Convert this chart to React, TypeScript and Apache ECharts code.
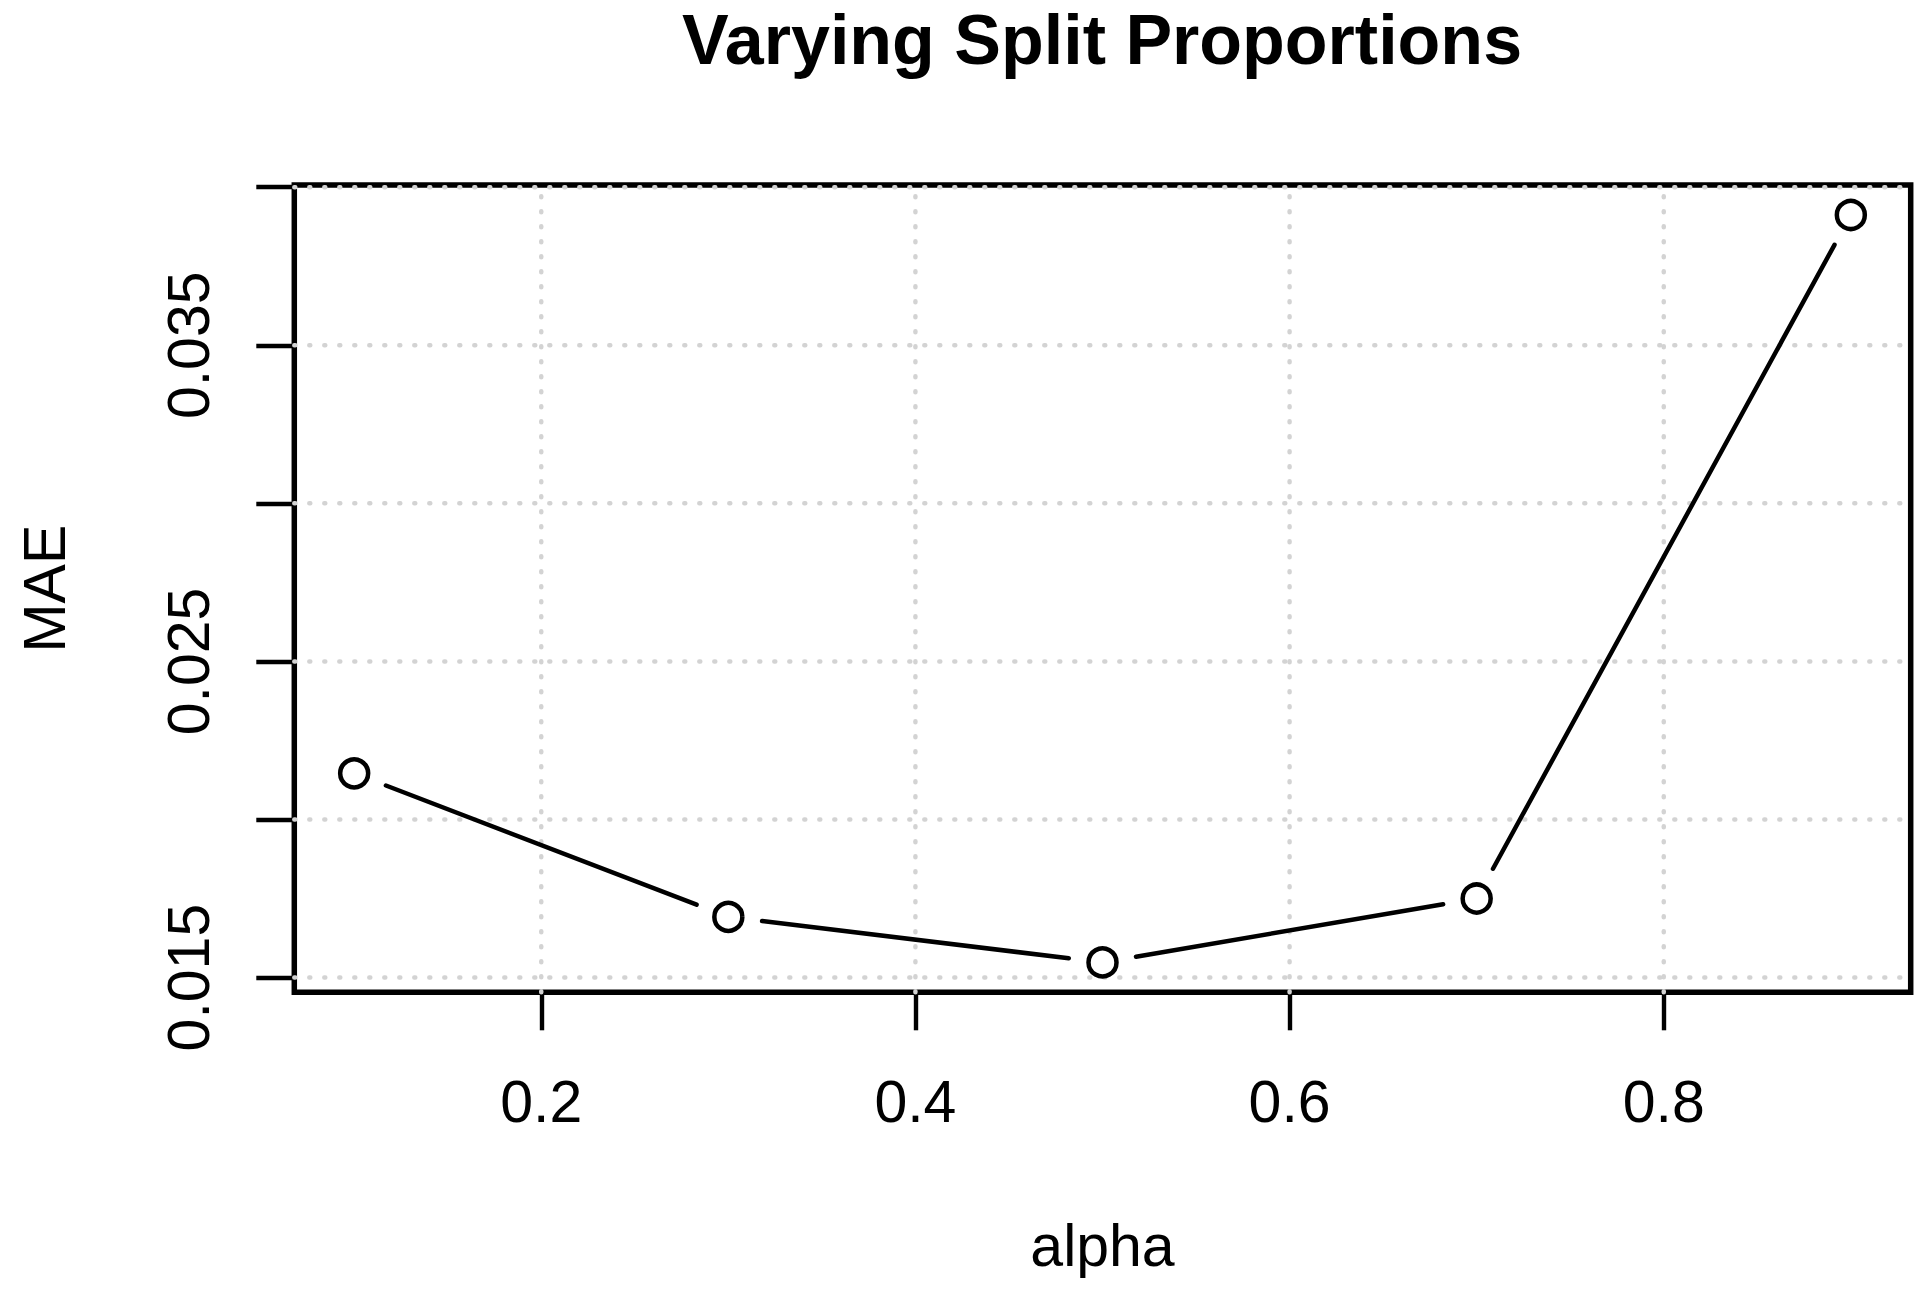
import React, { useEffect, useRef } from "react";
import * as echarts from "echarts";

const alpha = [0.1, 0.3, 0.5, 0.7, 0.9];
const mae = [0.02146, 0.01692, 0.01548, 0.0175, 0.03912];
const xTicks = [0.2, 0.4, 0.6, 0.8];
const yTicks = [0.015, 0.02, 0.025, 0.03, 0.035, 0.04];
const yLabels = [0.015, 0.025, 0.035];
const titleText = "Varying Split Proportions";
const xName = "alpha";
const yName = "MAE";

const FONT = '"Liberation Sans", Arial, Helvetica, sans-serif';
const GAP = 34;

function padRange(vals: number[]): [number, number] {
  const lo = Math.min(...vals);
  const hi = Math.max(...vals);
  const d = (hi - lo) * 0.04;
  return [lo - d, hi + d];
}

export default function App() {
  const ref = useRef<HTMLDivElement>(null);
  useEffect(() => {
    if (!ref.current) return;
    const chart = echarts.init(ref.current, null, { renderer: "svg" });
    const [xMin, xMax] = padRange(alpha);
    const [yMin, yMax] = padRange(mae);
    const pts = alpha.map((a, i) => [a, mae[i]]);
    const segs = alpha.slice(0, -1).map((a, i) => [a, mae[i], alpha[i + 1], mae[i + 1]]);
    const gridStyle = {
      stroke: "#d3d3d3",
      lineWidth: 4.5,
      lineDash: [1, 14],
      lineCap: "round",
    };
    chart.setOption({
      animation: false,
      backgroundColor: "#fff",
      title: {
        text: titleText,
        left: 1097,
        textAlign: "center",
        top: 0,
        textStyle: { fontSize: 70, fontWeight: "bold", color: "#000", fontFamily: FONT },
      },
      grid: {
        left: 294.3,
        top: 185.1,
        width: 1616.4,
        height: 807.2,
        show: true,
        borderColor: "#000",
        borderWidth: 5.5,
        backgroundColor: "transparent",
      },
      xAxis: {
        type: "value",
        min: xMin,
        max: xMax,
        name: xName,
        nameLocation: "middle",
        nameGap: 224,
        nameTextStyle: { fontSize: 59, color: "#000", fontFamily: FONT },
        axisLine: { show: false },
        splitLine: { show: false },
        axisTick: {
          show: true,
          customValues: xTicks,
          length: 38,
          lineStyle: { color: "#000", width: 4.4 },
        },
        axisLabel: {
          customValues: xTicks,
          margin: 80,
          fontSize: 59,
          color: "#000",
          fontFamily: FONT,
          formatter: (v: number) => v.toFixed(1),
        },
      },
      yAxis: {
        type: "value",
        min: yMin,
        max: yMax,
        name: yName,
        nameLocation: "middle",
        nameGap: 220,
        nameRotate: 90,
        nameTextStyle: { fontSize: 59, color: "#000", fontFamily: FONT },
        axisLine: { show: false },
        splitLine: { show: false },
        axisTick: {
          show: true,
          customValues: yTicks,
          length: 38,
          lineStyle: { color: "#000", width: 4.4 },
        },
        axisLabel: {
          customValues: yLabels,
          rotate: 90,
          margin: 76,
          fontSize: 59,
          color: "#000",
          fontFamily: FONT,
          formatter: (v: number) => v.toFixed(3),
        },
      },
      series: [
        {
          type: "custom",
          z: 1,
          silent: true,
          data: xTicks.map((v) => [v, yMin]),
          encode: { x: 0, y: 1 },
          renderItem: (params: any, api: any) => {
            const cs = params.coordSys;
            const x = api.coord([api.value(0), yMin])[0];
            return {
              type: "line",
              shape: { x1: x, y1: cs.y + cs.height, x2: x, y2: cs.y },
              style: gridStyle,
            };
          },
        },
        {
          type: "custom",
          z: 1,
          silent: true,
          data: yTicks.map((v) => [xMin, v]),
          encode: { x: 0, y: 1 },
          renderItem: (params: any, api: any) => {
            const cs = params.coordSys;
            const y = api.coord([xMin, api.value(1)])[1];
            return {
              type: "line",
              shape: { x1: cs.x, y1: y, x2: cs.x + cs.width, y2: y },
              style: gridStyle,
            };
          },
        },
        {
          type: "custom",
          z: 2,
          silent: true,
          data: segs,
          encode: { x: [0, 2], y: [1, 3] },
          renderItem: (params: any, api: any) => {
            const p0 = api.coord([api.value(0), api.value(1)]);
            const p1 = api.coord([api.value(2), api.value(3)]);
            const dx = p1[0] - p0[0];
            const dy = p1[1] - p0[1];
            const len = Math.hypot(dx, dy);
            const ux = dx / len;
            const uy = dy / len;
            return {
              type: "line",
              shape: {
                x1: p0[0] + ux * GAP,
                y1: p0[1] + uy * GAP,
                x2: p1[0] - ux * GAP,
                y2: p1[1] - uy * GAP,
              },
              style: { stroke: "#000", lineWidth: 4.5, lineCap: "round" },
            };
          },
        },
        {
          type: "scatter",
          z: 3,
          data: pts,
          symbol: "circle",
          symbolSize: 28,
          itemStyle: { color: "transparent", borderColor: "#000", borderWidth: 4.5, opacity: 1 },
          silent: true,
        },
      ],
    });
    return () => chart.dispose();
  }, []);
  return (
    <div
      ref={ref}
      style={{ position: "absolute", left: 0, top: 0, width: 1929, height: 1293, background: "#fff" }}
    />
  );
}
